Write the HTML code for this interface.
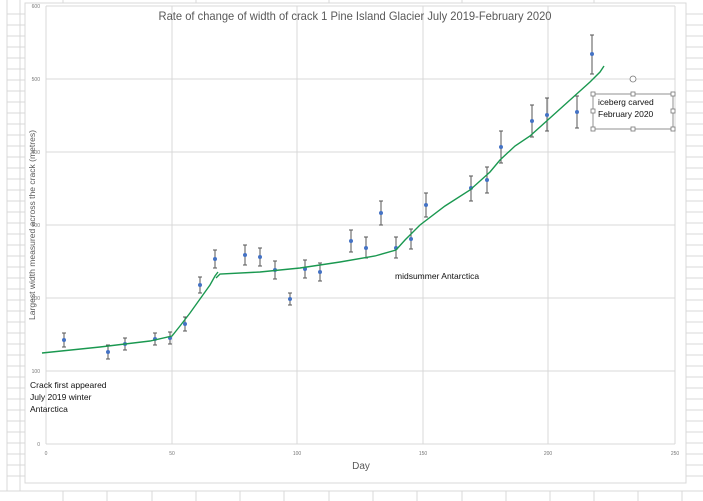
<!DOCTYPE html>
<html><head><meta charset="utf-8"><style>body{margin:0;background:#fff}svg{display:block}text{font-family:"Liberation Sans",sans-serif}</style></head><body>
<svg width="703" height="501" viewBox="0 0 703 501" xmlns="http://www.w3.org/2000/svg">
<g stroke="#d9d9d9" stroke-width="1">
<line x1="20" y1="0" x2="20" y2="491"/><line x1="7" y1="0" x2="7" y2="491"/>
<g id="lg">
<line x1="7" y1="14" x2="25" y2="14"/><line x1="7" y1="25" x2="25" y2="25"/><line x1="7" y1="36" x2="25" y2="36"/><line x1="7" y1="47" x2="25" y2="47"/><line x1="7" y1="58" x2="25" y2="58"/><line x1="7" y1="69" x2="25" y2="69"/><line x1="7" y1="80" x2="25" y2="80"/><line x1="7" y1="91" x2="25" y2="91"/><line x1="7" y1="102" x2="25" y2="102"/><line x1="7" y1="113" x2="25" y2="113"/><line x1="7" y1="124" x2="25" y2="124"/><line x1="7" y1="135" x2="25" y2="135"/><line x1="7" y1="146" x2="25" y2="146"/><line x1="7" y1="157" x2="25" y2="157"/><line x1="7" y1="168" x2="25" y2="168"/><line x1="7" y1="179" x2="25" y2="179"/><line x1="7" y1="190" x2="25" y2="190"/><line x1="7" y1="201" x2="25" y2="201"/><line x1="7" y1="212" x2="25" y2="212"/><line x1="7" y1="223" x2="25" y2="223"/><line x1="7" y1="234" x2="25" y2="234"/><line x1="7" y1="245" x2="25" y2="245"/><line x1="7" y1="256" x2="25" y2="256"/><line x1="7" y1="267" x2="25" y2="267"/><line x1="7" y1="278" x2="25" y2="278"/><line x1="7" y1="289" x2="25" y2="289"/><line x1="7" y1="300" x2="25" y2="300"/><line x1="7" y1="311" x2="25" y2="311"/><line x1="7" y1="322" x2="25" y2="322"/><line x1="7" y1="333" x2="25" y2="333"/><line x1="7" y1="344" x2="25" y2="344"/><line x1="7" y1="355" x2="25" y2="355"/><line x1="7" y1="366" x2="25" y2="366"/><line x1="7" y1="377" x2="25" y2="377"/><line x1="7" y1="388" x2="25" y2="388"/><line x1="7" y1="399" x2="25" y2="399"/><line x1="7" y1="410" x2="25" y2="410"/><line x1="7" y1="421" x2="25" y2="421"/><line x1="7" y1="432" x2="25" y2="432"/><line x1="7" y1="443" x2="25" y2="443"/><line x1="7" y1="454" x2="25" y2="454"/><line x1="7" y1="465" x2="25" y2="465"/><line x1="7" y1="476" x2="25" y2="476"/>
</g>
<use href="#lg" transform="translate(679,0)"/>
<line x1="0" y1="491" x2="703" y2="491"/>
<line x1="63" y1="491" x2="63" y2="501"/><line x1="107" y1="491" x2="107" y2="501"/><line x1="152" y1="491" x2="152" y2="501"/><line x1="196" y1="491" x2="196" y2="501"/><line x1="240" y1="491" x2="240" y2="501"/><line x1="284" y1="491" x2="284" y2="501"/><line x1="329" y1="491" x2="329" y2="501"/><line x1="373" y1="491" x2="373" y2="501"/><line x1="417" y1="491" x2="417" y2="501"/><line x1="462" y1="491" x2="462" y2="501"/><line x1="506" y1="491" x2="506" y2="501"/><line x1="550" y1="491" x2="550" y2="501"/><line x1="594" y1="491" x2="594" y2="501"/><line x1="638" y1="491" x2="638" y2="501"/><line x1="682" y1="491" x2="682" y2="501"/>
<line x1="63" y1="0" x2="63" y2="4"/><line x1="196" y1="0" x2="196" y2="4"/><line x1="329" y1="0" x2="329" y2="4"/><line x1="462" y1="0" x2="462" y2="4"/><line x1="594" y1="0" x2="594" y2="4"/>
</g>
<rect x="25" y="3" width="661" height="480" fill="#fff" stroke="#d9d9d9"/>
<g stroke="#d9d9d9">
<line x1="46" y1="6" x2="675" y2="6"/><line x1="46" y1="79" x2="675" y2="79"/><line x1="46" y1="152" x2="675" y2="152"/><line x1="46" y1="225" x2="675" y2="225"/><line x1="46" y1="298" x2="675" y2="298"/><line x1="46" y1="371" x2="675" y2="371"/><line x1="46" y1="444" x2="675" y2="444"/>
<line x1="46" y1="6" x2="46" y2="444"/><line x1="172" y1="6" x2="172" y2="444"/><line x1="297" y1="6" x2="297" y2="444"/><line x1="423" y1="6" x2="423" y2="444"/><line x1="548" y1="6" x2="548" y2="444"/><line x1="675" y1="6" x2="675" y2="444"/>
</g>
<g font-size="5" fill="#777" text-anchor="end">
<text x="40" y="8">600</text><text x="40" y="81">500</text><text x="40" y="154">400</text><text x="40" y="227">300</text><text x="40" y="300">200</text><text x="40" y="373">100</text><text x="40" y="446">0</text>
</g>
<g font-size="5" fill="#777" text-anchor="middle">
<text x="46" y="455">0</text><text x="172" y="455">50</text><text x="297" y="455">100</text><text x="423" y="455">150</text><text x="548" y="455">200</text><text x="675" y="455">250</text>
</g>
<text x="355" y="20" font-size="12" fill="#595959" text-anchor="middle" textLength="393" lengthAdjust="spacingAndGlyphs">Rate of change of width of crack 1 Pine Island  Glacier  July 2019-February 2020</text>
<text x="361" y="469" font-size="10" fill="#595959" text-anchor="middle">Day</text>
<text transform="translate(35,225) rotate(-90)" font-size="8.5" fill="#595959" text-anchor="middle" textLength="190" lengthAdjust="spacingAndGlyphs">Largest width measured across the crack (metres)</text>
<g stroke="#555" stroke-width="1">
<path d="M64 333v14M62 333h4M62 347h4 M108 345v14M106 345h4M106 359h4 M125 338v12M123 338h4M123 350h4 M155 333v12M153 333h4M153 345h4 M170 332v12M168 332h4M168 344h4 M185 317v14M183 317h4M183 331h4 M200 277v16M198 277h4M198 293h4 M215 250v18M213 250h4M213 268h4 M245 245v20M243 245h4M243 265h4 M260 248v18M258 248h4M258 266h4 M275 261v18M273 261h4M273 279h4 M290 293v12M288 293h4M288 305h4 M305 260v18M303 260h4M303 278h4 M320 263v18M318 263h4M318 281h4 M351 230v22M349 230h4M349 252h4 M366 237v21M364 237h4M364 258h4 M381 201v24M379 201h4M379 225h4 M396 237v21M394 237h4M394 258h4 M411 229v20M409 229h4M409 249h4 M426 193v24M424 193h4M424 217h4 M471 176v25M469 176h4M469 201h4 M487 167v26M485 167h4M485 193h4 M501 131v32M499 131h4M499 163h4 M532 105v32M530 105h4M530 137h4 M547 98v33M545 98h4M545 131h4 M577 96v32M575 96h4M575 128h4 M592 35v39M590 35h4M590 74h4"/>
</g>
<g fill="#4472c4">
<circle cx="64" cy="340" r="2"/><circle cx="108" cy="352" r="2"/><circle cx="125" cy="344" r="2"/><circle cx="155" cy="339" r="2"/><circle cx="170" cy="338" r="2"/><circle cx="185" cy="324" r="2"/><circle cx="200" cy="285" r="2"/><circle cx="215" cy="259" r="2"/><circle cx="245" cy="255" r="2"/><circle cx="260" cy="257" r="2"/><circle cx="275" cy="270" r="2"/><circle cx="290" cy="299" r="2"/><circle cx="305" cy="269" r="2"/><circle cx="320" cy="272" r="2"/><circle cx="351" cy="241" r="2"/><circle cx="366" cy="248" r="2"/><circle cx="381" cy="213" r="2"/><circle cx="396" cy="248" r="2"/><circle cx="411" cy="239" r="2"/><circle cx="426" cy="205" r="2"/><circle cx="471" cy="188" r="2"/><circle cx="487" cy="180" r="2"/><circle cx="501" cy="147" r="2"/><circle cx="532" cy="121" r="2"/><circle cx="547" cy="115" r="2"/><circle cx="577" cy="112" r="2"/><circle cx="592" cy="54" r="2"/>
</g>
<g fill="none" stroke="#1a9850" stroke-width="1.4">
<path d="M42 353 L100 347 L150 341 L172 336 L180 326 L190 313 L200 299 L210 285 L215 276 L218 272"/>
<path d="M216 278 L220 274 L260 272 L300 268 L340 262 L375 256 L396 250 L405 240 L420 225 L445 206 L470 190 L490 172 L500 160 L515 146 L530 136 L550 118 L570 100 L590 82 L600 72 L604 66"/>
</g>
<g font-size="8.5" fill="#111">
<text x="30" y="388">Crack first appeared</text><text x="30" y="400">July 2019   winter</text><text x="30" y="412">Antarctica</text>
<text x="395" y="279">midsummer Antarctica</text>
<text x="598" y="105">iceberg carved</text><text x="598" y="117">February 2020</text>
</g>
<g fill="#fff" stroke="#777" stroke-width="0.8">
<rect x="593" y="94" width="80" height="35" fill="none"/>
<rect x="591" y="92" width="4" height="4"/><rect x="631" y="92" width="4" height="4"/><rect x="671" y="92" width="4" height="4"/>
<rect x="591" y="109" width="4" height="4"/><rect x="671" y="109" width="4" height="4"/>
<rect x="591" y="127" width="4" height="4"/><rect x="631" y="127" width="4" height="4"/><rect x="671" y="127" width="4" height="4"/>
<circle cx="633" cy="79" r="3"/>
</g>
</svg>
</body></html>
